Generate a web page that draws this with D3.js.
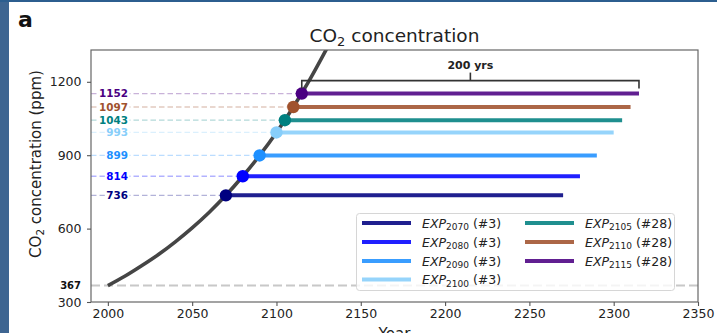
<!DOCTYPE html>
<html>
<head>
<meta charset="utf-8">
<script src="https://cdn.jsdelivr.net/npm/d3@7"></script>
<style>
  html, body { margin: 0; padding: 0; background: #fff; }
  svg { display: block; font-family: "DejaVu Sans", sans-serif; }
</style>
</head>
<body>
<svg id="chart" width="717" height="333"></svg>
<script>
// CO2 pathway (ppm) by year
const pathYears = [2000, 2010, 2020, 2030, 2040, 2050, 2060, 2070, 2080, 2090, 2100, 2110, 2120, 2130];
const pathCO2   = [367, 405, 448, 494, 546, 603, 666, 736, 814, 899, 993, 1097, 1212, 1338];

// Stabilisation experiments: branch-off year, CO2 level held, end year, ensemble size
const expYears   = [2070, 2080, 2090, 2100, 2105, 2110, 2115];
const expCO2     = [736, 814, 899, 993, 1043, 1097, 1152];
const expEnds    = [2270, 2280, 2290, 2300, 2305, 2310, 2315];
const expMembers = [3, 3, 3, 3, 28, 28, 28];
const expColors  = ["#000080", "#0000ff", "#1e90ff", "#87cefa", "#008080", "#a0522d", "#4b0082"];

const baselineCO2 = 367;
const bracketSpan = [2115, 2315];
const bracketLabel = "200 yrs";

const xTicks = [2000, 2050, 2100, 2150, 2200, 2250, 2300, 2350];
const yTicks = [300, 600, 900, 1200];

const svg = d3.select("#chart");
const W = 717, H = 333;
const m = { left: 91, right: 19, top: 50, bottom: 31 };

const x = d3.scaleLinear().domain([1990, 2350]).range([m.left, W - m.right]);
const y = d3.scaleLinear().domain([300, 1330]).range([H - m.bottom, m.top]);

svg.append("rect").attr("width", W).attr("height", H).attr("fill", "#fff");

svg.append("defs").append("clipPath").attr("id", "plot-clip")
  .append("rect").attr("x", m.left).attr("y", m.top)
  .attr("width", W - m.left - m.right).attr("height", H - m.top - m.bottom);

const plot = svg.append("g").attr("clip-path", "url(#plot-clip)");

// pre-industrial-ish reference level
plot.append("line")
  .attr("x1", x(1990)).attr("x2", x(2350))
  .attr("y1", y(baselineCO2)).attr("y2", y(baselineCO2))
  .attr("stroke", "#c8c8c8").attr("stroke-width", 2)
  .attr("stroke-dasharray", "9,4");

// dashed guides from the axis to each branch point
expYears.forEach((yr, i) => {
  plot.append("line")
    .attr("x1", x(1990)).attr("x2", x(yr))
    .attr("y1", y(expCO2[i])).attr("y2", y(expCO2[i]))
    .attr("stroke", expColors[i]).attr("stroke-opacity", 0.3)
    .attr("stroke-width", 1.3).attr("stroke-dasharray", "5.5,3");
});

// held-concentration runs
expYears.forEach((yr, i) => {
  plot.append("line")
    .attr("x1", x(yr)).attr("x2", x(expEnds[i]))
    .attr("y1", y(expCO2[i])).attr("y2", y(expCO2[i]))
    .attr("stroke", expColors[i]).attr("stroke-opacity", 0.88)
    .attr("stroke-width", 4);
});

// ramping pathway
plot.append("path")
  .datum(pathYears.map((yr, i) => [yr, pathCO2[i]]))
  .attr("fill", "none").attr("stroke", "#454545").attr("stroke-width", 3.6)
  .attr("d", d3.line().x(d => x(d[0])).y(d => y(d[1])).curve(d3.curveMonotoneX));

// branch points
expYears.forEach((yr, i) => {
  plot.append("circle")
    .attr("cx", x(yr)).attr("cy", y(expCO2[i])).attr("r", 6.2)
    .attr("fill", expColors[i]);
});

// value labels on the guides
expYears.forEach((yr, i) => {
  const t = svg.append("text")
    .attr("x", 128).attr("y", y(expCO2[i]))
    .attr("dy", "0.36em").attr("text-anchor", "end")
    .attr("font-size", 10.4).attr("font-weight", "bold")
    .attr("fill", expColors[i]).text(expCO2[i]);
  const b = t.node().getBBox();
  svg.insert("rect", () => t.node())
    .attr("x", b.x - 1.5).attr("y", b.y).attr("width", b.width + 3).attr("height", b.height)
    .attr("fill", "#fff");
});

// 200-year bracket
const bY = y(1205), bDrop = 8;
const bracket = svg.append("g").attr("stroke", "#333").attr("stroke-width", 1.6).attr("fill", "none");
bracket.append("path")
  .attr("d", `M${x(bracketSpan[0])},${bY + bDrop}V${bY}H${x(bracketSpan[1])}V${bY + bDrop}`);
const bMid = x((bracketSpan[0] + bracketSpan[1]) / 2);
bracket.append("line").attr("x1", bMid).attr("x2", bMid).attr("y1", bY).attr("y2", bY - bDrop);
svg.append("text").attr("x", bMid).attr("y", bY - 12)
  .attr("text-anchor", "middle").attr("font-size", 11).attr("font-weight", "bold")
  .attr("fill", "#222").text(bracketLabel);

// axes frame
svg.append("rect")
  .attr("x", m.left).attr("y", m.top)
  .attr("width", W - m.left - m.right).attr("height", H - m.top - m.bottom)
  .attr("fill", "none").attr("stroke", "#666").attr("stroke-width", 1.2);

const xAxis = svg.append("g").attr("transform", `translate(0,${H - m.bottom})`)
  .call(d3.axisBottom(x).tickValues(xTicks).tickFormat(d3.format("d")).tickSize(4).tickPadding(3.5));
const yAxis = svg.append("g").attr("transform", `translate(${m.left},0)`)
  .call(d3.axisLeft(y).tickValues(yTicks).tickFormat(d3.format("d")).tickSize(4).tickPadding(5.5));
[xAxis, yAxis].forEach(a => {
  a.select(".domain").remove();
  a.selectAll(".tick line").attr("stroke", "#555").attr("stroke-width", 1.1);
  a.selectAll(".tick text").attr("font-size", 12.5).attr("fill", "#222")
    .attr("font-family", "DejaVu Sans, sans-serif");
});

// bold baseline value beside the axis
svg.append("text").attr("x", m.left - 10).attr("y", y(baselineCO2)).attr("dy", "0.36em")
  .attr("text-anchor", "end").attr("font-size", 10).attr("font-weight", "bold")
  .attr("fill", "#111").text(baselineCO2);

// legend
const lg = svg.append("g");
lg.append("rect").attr("x", 356.5).attr("y", 213.5).attr("width", 318).attr("height", 77)
  .attr("rx", 3).attr("fill", "#fff").attr("fill-opacity", 0.8)
  .attr("stroke", "#d6d6d6").attr("stroke-width", 1);
const rowY = [223, 242, 261, 279.5];
expYears.forEach((yr, i) => {
  const col = i < 4 ? 0 : 1;
  const row = i < 4 ? i : i - 4;
  const hx = col === 0 ? 362 : 525;
  const ly = rowY[row];
  lg.append("line").attr("x1", hx).attr("x2", hx + 49).attr("y1", ly).attr("y2", ly)
    .attr("stroke", expColors[i]).attr("stroke-opacity", 0.88).attr("stroke-width", 4);
  const t = lg.append("text").attr("x", hx + 60).attr("y", ly).attr("dy", "0.36em")
    .attr("font-size", 12.5).attr("fill", "#222");
  t.append("tspan").attr("font-style", "italic").text("EXP");
  t.append("tspan").attr("font-size", 9).attr("dy", "0.28em").text(yr);
  t.append("tspan").attr("dy", "-0.2em").text(` (#${expMembers[i]})`);
});

// titles
const title = svg.append("text").attr("x", (m.left + W - m.right) / 2).attr("y", 42)
  .attr("text-anchor", "middle").attr("font-size", 18.5).attr("fill", "#222");
title.append("tspan").text("CO");
title.append("tspan").attr("font-size", 13).attr("dy", "0.3em").text("2");
title.append("tspan").attr("dy", "-0.23em").text(" concentration");

svg.append("text").attr("x", 18).attr("y", 27).attr("font-size", 22)
  .attr("font-weight", "bold").attr("fill", "#111").text("a");

const ylab = svg.append("text")
  .attr("transform", "translate(41,164) rotate(-90)")
  .attr("text-anchor", "middle").attr("font-size", 15).attr("fill", "#222");
ylab.append("tspan").text("CO");
ylab.append("tspan").attr("font-size", 10.5).attr("dy", "0.3em").text("2");
ylab.append("tspan").attr("dy", "-0.2em").text(" concentration (ppm)");

svg.append("text").attr("x", (m.left + W - m.right) / 2).attr("y", 339)
  .attr("text-anchor", "middle").attr("font-size", 15).attr("fill", "#222").text("Year");

// page frame strips
svg.append("rect").attr("x", 0).attr("y", 0).attr("width", 9).attr("height", H).attr("fill", "#3e6591");
svg.append("rect").attr("x", 0).attr("y", 0).attr("width", W).attr("height", 2).attr("fill", "#2c5e8f");
</script>
</body>
</html>
